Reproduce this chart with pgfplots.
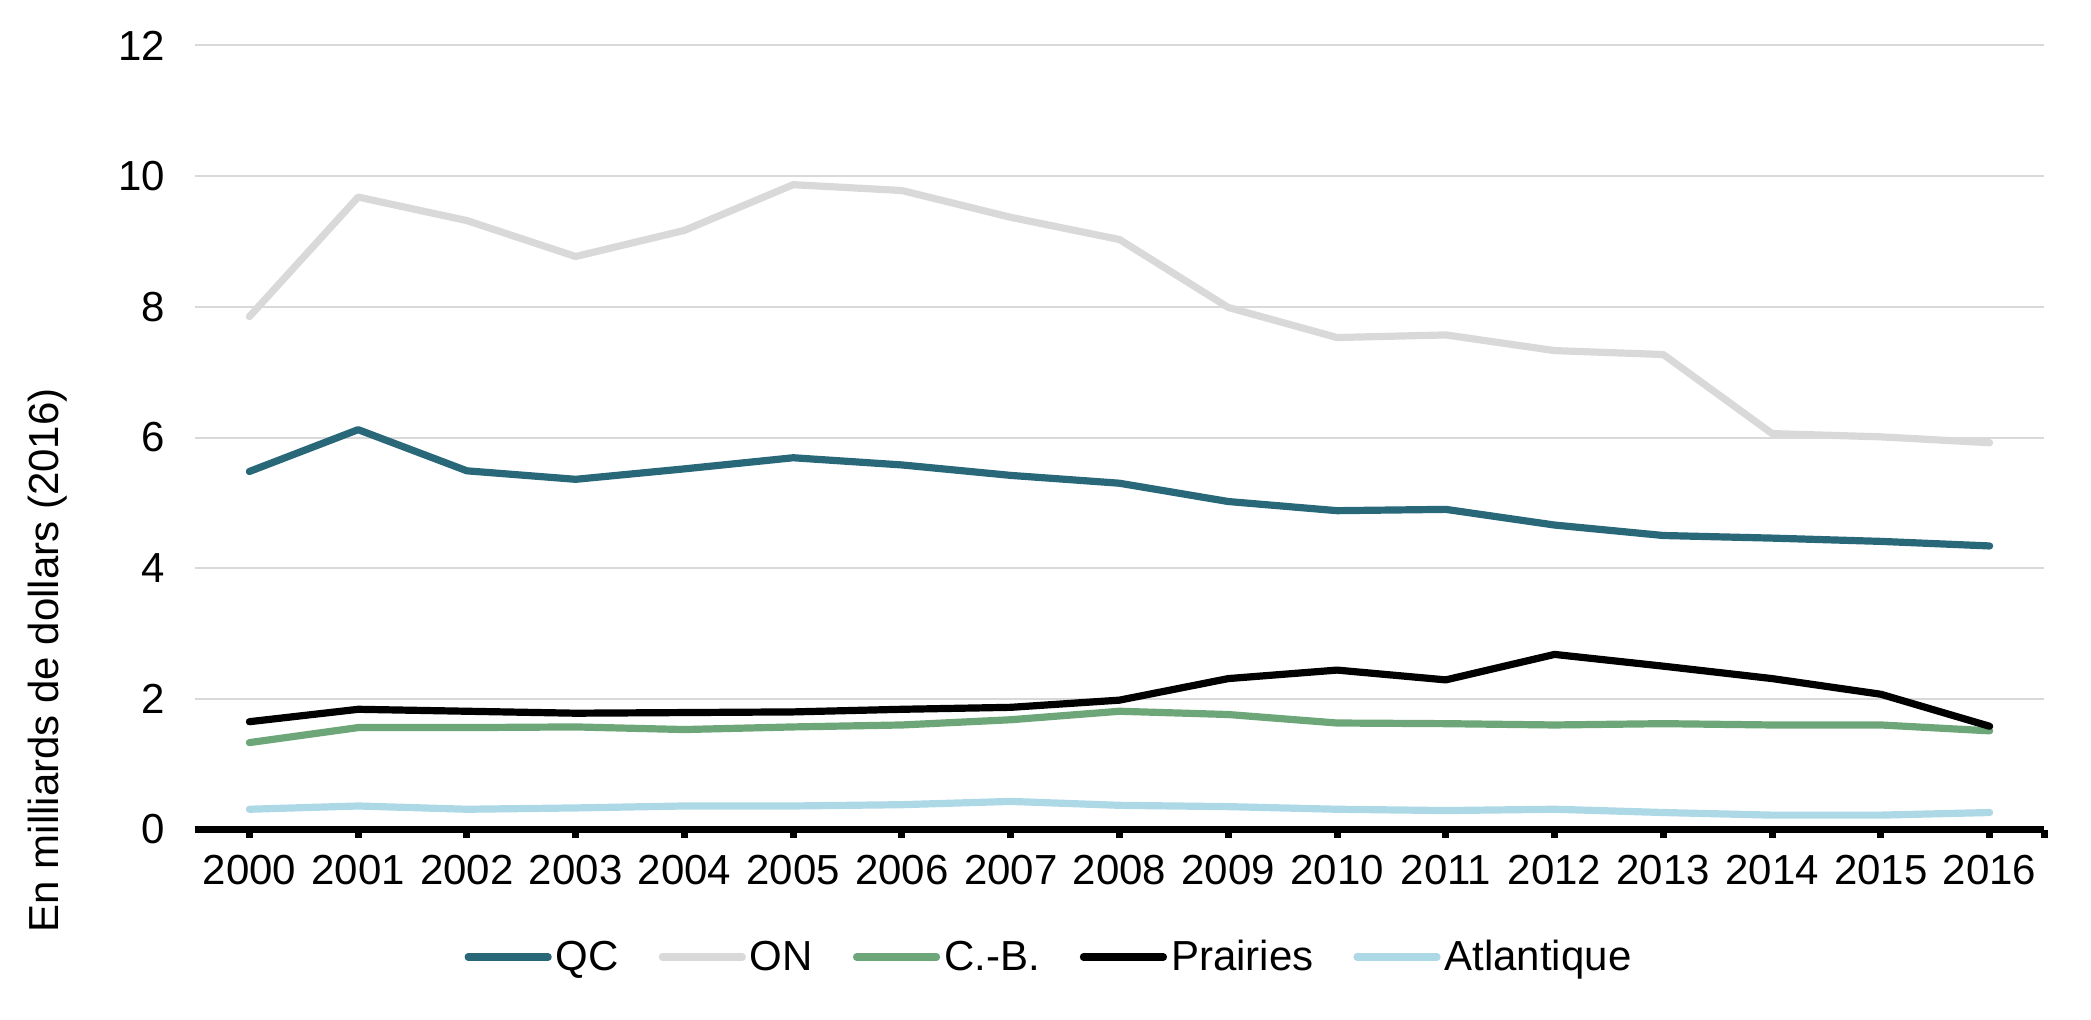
\documentclass[border=0pt]{standalone}
\usepackage{fontspec}
\setmainfont{Liberation Sans}
\usepackage{pgfplots}
\pgfplotsset{compat=1.18}
\definecolor{qc}{RGB}{40,104,121}
\definecolor{on}{RGB}{217,217,217}
\definecolor{cb}{RGB}{109,166,120}
\definecolor{atl}{RGB}{173,216,230}
\definecolor{gridc}{RGB}{217,217,217}
\begin{document}
\begin{tikzpicture}
\useasboundingbox (0,0) rectangle (1045.5pt,509.5pt);
\begin{axis}[
  at={(97.5pt,94.75pt)}, anchor=south west,
  width=924.5pt, height=392pt, scale only axis,
  xmin=-0.5, xmax=16.5, ymin=0, ymax=12,
  clip=false,
  ytick={0,2,4,6,8,10,12},
  xtick={0,...,16},
  xticklabels={2000,2001,2002,2003,2004,2005,2006,2007,2008,2009,2010,2011,2012,2013,2014,2015,2016},
  extra x ticks={16.5}, extra x tick labels={},
  /pgf/number format/assume math mode=true,
  tick label style={font=\fontsize{21}{25}\selectfont, black},
  yticklabel style={xshift=-11.5pt},
  xticklabel style={yshift=-5pt},
  axis x line*=bottom, axis y line*=left,
  x axis line style={line width=3.8pt, black, -},
  y axis line style={draw=none},
  ytick style={draw=none},
  xtick style={line width=3.5pt, black},
  xtick align=outside, major tick length=4.3pt,
  ymajorgrids, grid style={line width=1pt, gridc},
  ylabel={En milliards de dollars (2016)},
  ylabel style={font=\fontsize{21}{25}\selectfont, at={(axis description cs:-0.0795,0.216)}, anchor=center},
  every axis plot/.append style={line width=3.6pt, line join=round, line cap=round},
  legend columns=5,
  legend style={at={(0.4624,-0.1626)}, anchor=center, draw=none, fill=none,
    font=\fontsize{21}{25}\selectfont,
    /tikz/every even column/.append style={column sep=18pt},
    nodes={inner sep=2pt}},
  legend image code/.code={\draw[#1, line width=3.6pt, line cap=round] (0pt,0pt) -- (40pt,0pt);},
]
\addplot[qc] coordinates {(0,5.48)(1,6.12)(2,5.49)(3,5.36)(4,5.52)(5,5.69)(6,5.58)(7,5.42)(8,5.30)(9,5.02)(10,4.88)(11,4.90)(12,4.66)(13,4.50)(14,4.46)(15,4.41)(16,4.34)};
\addlegendentry{QC}
\addplot[on] coordinates {(0,7.85)(1,9.68)(2,9.32)(3,8.77)(4,9.17)(5,9.87)(6,9.78)(7,9.37)(8,9.03)(9,7.99)(10,7.53)(11,7.57)(12,7.33)(13,7.27)(14,6.06)(15,6.01)(16,5.92)};
\addlegendentry{ON}
\addplot[cb] coordinates {(0,1.33)(1,1.56)(2,1.56)(3,1.57)(4,1.53)(5,1.57)(6,1.60)(7,1.68)(8,1.81)(9,1.76)(10,1.63)(11,1.62)(12,1.60)(13,1.62)(14,1.60)(15,1.60)(16,1.51)};
\addlegendentry{C.-B.}
\addplot[black] coordinates {(0,1.65)(1,1.84)(2,1.81)(3,1.78)(4,1.79)(5,1.80)(6,1.84)(7,1.87)(8,1.98)(9,2.31)(10,2.44)(11,2.29)(12,2.68)(13,2.50)(14,2.31)(15,2.07)(16,1.58)};
\addlegendentry{Prairies}
\addplot[atl] coordinates {(0,0.31)(1,0.36)(2,0.31)(3,0.33)(4,0.36)(5,0.36)(6,0.38)(7,0.43)(8,0.37)(9,0.35)(10,0.31)(11,0.29)(12,0.31)(13,0.26)(14,0.22)(15,0.22)(16,0.26)};
\addlegendentry{Atlantique}
\end{axis}
\end{tikzpicture}
\end{document}
